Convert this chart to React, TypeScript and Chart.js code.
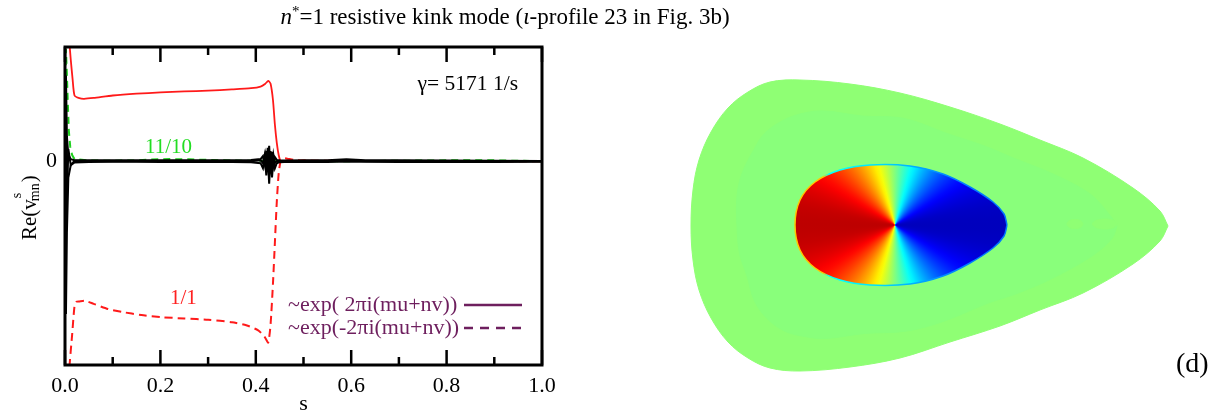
import React, { useEffect, useRef } from 'react';
import { Chart, registerables } from 'chart.js';

Chart.register(...registerables);

const SERIF = '"Liberation Serif", "Times New Roman", serif';

// ---- radial profiles Re(v^s_mn)(s) ----
// m/n = 1/1, ~exp(+2πi(mu+nv))
const sOnePlus = [0, 0.004, 0.008, 0.012, 0.016, 0.02, 0.03, 0.04, 0.06, 0.1, 0.15, 0.2, 0.25, 0.3, 0.35, 0.39, 0.41, 0.42, 0.426, 0.431, 0.436, 0.44, 0.444, 0.448, 0.452, 0.46, 0.5, 0.6, 0.7, 0.8, 0.9, 1.0];
const reOnePlus = [0.95, 0.8, 0.62, 0.5, 0.4, 0.322, 0.309, 0.306, 0.31, 0.322, 0.331, 0.337, 0.342, 0.346, 0.352, 0.358, 0.366, 0.38, 0.394, 0.38, 0.3, 0.18, 0.09, 0.03, 0.0, -0.004, 0.002, 0.0, 0.0, 0.0, 0.0, 0.0];

// m/n = 1/1, ~exp(-2πi(mu+nv))
const sOneMinus = [0.006, 0.009, 0.015, 0.02, 0.024, 0.03, 0.042, 0.06, 0.09, 0.12, 0.16, 0.2, 0.25, 0.3, 0.35, 0.38, 0.405, 0.418, 0.426, 0.431, 0.436, 0.44, 0.444, 0.448, 0.452, 0.458, 0.466, 0.48, 0.5, 0.6, 0.7, 0.8, 0.9, 1.0];
const reOneMinus = [-1.2, -1.02, -0.85, -0.71, -0.69, -0.688, -0.685, -0.7, -0.725, -0.74, -0.755, -0.765, -0.772, -0.778, -0.79, -0.805, -0.83, -0.86, -0.89, -0.8, -0.6, -0.4, -0.2, -0.06, 0.0, 0.015, 0.012, 0.006, 0.003, 0.001, 0.0, 0.0, 0.0, 0.0];

// m/n = 11/10
const sElevenTen = [0, 0.002, 0.004, 0.006, 0.008, 0.011, 0.015, 0.02, 0.05, 0.1, 0.15, 0.18, 0.22, 0.26, 0.3, 0.35, 0.4, 0.43, 0.46, 0.5, 0.6, 0.7, 0.8, 0.85, 0.9, 0.95, 1.0];
const reElevenTen = [0, 0.55, 0.42, 0.28, 0.15, 0.07, 0.03, 0.01, 0.003, 0.002, 0.004, 0.008, 0.01, 0.009, 0.006, 0.003, 0.002, 0.0, 0.0, 0.0, 0.0, 0.002, 0.004, 0.005, 0.004, 0.002, 0];

// remaining harmonics (black)
const sOther = [0, 0.002, 0.004, 0.007, 0.012, 0.02, 0.05, 0.1, 0.15, 0.2, 0.25, 0.3, 0.35, 0.39, 0.41, 0.415, 0.419, 0.422, 0.425, 0.428, 0.431, 0.434, 0.437, 0.44, 0.444, 0.45, 0.46, 0.5, 0.55, 0.59, 0.63, 0.7, 0.8, 0.9, 1.0];
const reOtherA = [0, 0.42, 0.12, 0.03, 0.01, 0.005, 0.004, 0.004, 0.004, 0.005, 0.005, 0.005, 0.005, 0.006, 0.01, 0.025, -0.02, 0.05, -0.04, 0.075, -0.05, 0.045, -0.02, 0.02, 0.006, 0.004, 0.003, 0.004, 0.005, 0.009, 0.005, 0.004, 0.003, 0.002, 0.001];
const reOtherB = [0, -0.75, -0.35, -0.08, -0.02, -0.006, -0.004, -0.003, -0.003, -0.004, -0.004, -0.004, -0.004, -0.005, -0.01, -0.035, 0.02, -0.07, 0.03, -0.11, 0.02, -0.08, 0.01, -0.035, -0.01, -0.005, -0.004, -0.004, -0.004, -0.002, -0.003, -0.004, -0.004, -0.004, -0.003];
const reOtherC = [0, 0.1, -0.2, 0.06, -0.02, 0.002, 0.001, 0.0, 0.0, 0.0, 0.001, 0.001, 0.001, 0.0, 0.005, -0.01, 0.035, -0.03, 0.065, -0.05, 0.05, -0.045, 0.03, -0.01, 0.0, 0.0, 0.0, 0.0, 0.0, 0.004, 0.0, 0.0, 0.0, 0.0, 0.0];

const sTicks = [0, 0.2, 0.4, 0.6, 0.8, 1.0];
const sMinorTicks = [0.1, 0.3, 0.5, 0.7, 0.9];
const growthRate = 'γ= 5171 1/s';
const legendLabels = ['~exp( 2πi(mu+nv))', '~exp(-2πi(mu+nv))'];

// ---- poloidal cross-section (R, Z in m) ----
const edgeR = [6.824, 6.792, 6.684, 6.484, 6.312, 6.152, 5.952, 5.752, 5.552, 5.352, 5.232, 5.144, 5.064, 4.996, 4.948, 4.924, 4.916, 4.924, 4.948, 4.996, 5.064, 5.144, 5.232, 5.352, 5.552, 5.752, 5.952, 6.152, 6.312, 6.484, 6.684, 6.792, 6.824];
const edgeZ = [-0.07, -0.01, 0.082, 0.202, 0.274, 0.338, 0.406, 0.462, 0.498, 0.514, 0.506, 0.466, 0.402, 0.306, 0.194, 0.074, -0.07, -0.206, -0.326, -0.438, -0.534, -0.598, -0.638, -0.65, -0.634, -0.598, -0.534, -0.47, -0.406, -0.338, -0.222, -0.13, -0.07];
// inner region of the flat perturbation (slightly lower level)
const bandR = [6.62, 6.59, 6.51, 6.36, 6.21, 6.09, 5.94, 5.77, 5.6, 5.45, 5.36, 5.28, 5.21, 5.17, 5.12, 5.1, 5.1, 5.11, 5.14, 5.17, 5.22, 5.29, 5.36, 5.45, 5.61, 5.78, 5.93, 6.1, 6.22, 6.36, 6.52, 6.6, 6.62];
const bandZ = [-0.07, -0.025, 0.06, 0.14, 0.2, 0.25, 0.3, 0.36, 0.37, 0.39, 0.38, 0.35, 0.3, 0.24, 0.14, 0.05, -0.07, -0.18, -0.27, -0.37, -0.44, -0.49, -0.51, -0.52, -0.5, -0.49, -0.45, -0.38, -0.34, -0.28, -0.19, -0.12, -0.07];
const islandAR = [6.484, 6.475, 6.452, 6.429, 6.42, 6.429, 6.452, 6.475, 6.484];
const islandAZ = [-0.062, -0.049, -0.044, -0.049, -0.062, -0.075, -0.08, -0.075, -0.062];
const islandBR = [6.622, 6.607, 6.572, 6.537, 6.522, 6.537, 6.572, 6.607, 6.622];
const islandBZ = [-0.062, -0.048, -0.042, -0.048, -0.062, -0.076, -0.082, -0.076, -0.062];
const coreR = [6.18, 6.168, 6.124, 6.032, 5.924, 5.792, 5.632, 5.512, 5.412, 5.352, 5.332, 5.352, 5.412, 5.512, 5.632, 5.792, 5.924, 6.032, 6.124, 6.168, 6.18];
const coreZ = [-0.066, -0.022, 0.026, 0.086, 0.138, 0.17, 0.174, 0.154, 0.106, 0.034, -0.066, -0.166, -0.238, -0.286, -0.306, -0.302, -0.27, -0.218, -0.158, -0.11, -0.066];
const axisR = 5.732;
const axisZ = -0.066;
const rRange = [4.6, 7.048];
const zRange = [-0.834, 0.834];

const zip = (xs: number[], ys: number[]) => xs.map((x, i) => ({ x, y: ys[i] }));

// jet colormap, t in [0, 1]
const jet = (t: number) => {
  const c = (v: number) => Math.round(255 * Math.max(0, Math.min(1, v)));
  const r = c(Math.min(4 * t - 1.5, -4 * t + 4.5));
  const g = c(Math.min(4 * t - 0.5, -4 * t + 3.5));
  const b = c(Math.min(4 * t + 0.5, -4 * t + 2.5));
  return `rgb(${r},${g},${b})`;
};

const framePlugin = {
  id: 'frame',
  afterDraw(chart: any) {
    const { ctx, chartArea: a, scales } = chart;
    const xs = scales.x;
    ctx.save();
    ctx.strokeStyle = '#000';
    ctx.lineWidth = 3;
    ctx.strokeRect(a.left, a.top, a.right - a.left, a.bottom - a.top);
    ctx.lineWidth = 2.5;
    const tick = (v: number, len: number) => {
      const x = xs.getPixelForValue(v);
      ctx.beginPath();
      ctx.moveTo(x, a.bottom);
      ctx.lineTo(x, a.bottom - len);
      ctx.moveTo(x, a.top);
      ctx.lineTo(x, a.top + len);
      ctx.stroke();
    };
    sTicks.forEach((v) => tick(v, 15));
    sMinorTicks.forEach((v) => tick(v, 8));

    // y tick label at zero
    ctx.fillStyle = '#000';
    ctx.font = `22px ${SERIF}`;
    ctx.textAlign = 'right';
    ctx.textBaseline = 'middle';
    ctx.fillText('0', a.left - 8, scales.y.getPixelForValue(0));

    // y-axis title Re(v^s_mn)
    ctx.translate(36, 240);
    ctx.rotate(-Math.PI / 2);
    ctx.textBaseline = 'alphabetic';
    ctx.textAlign = 'left';
    ctx.font = `21px ${SERIF}`;
    ctx.fillText('Re(v', 0, 0);
    const w1 = ctx.measureText('Re(v').width;
    ctx.font = `14px ${SERIF}`;
    ctx.fillText('s', w1 + 1, -15);
    ctx.fillText('mn', w1 - 2, 3);
    const w2 = ctx.measureText('mn').width;
    ctx.font = `21px ${SERIF}`;
    ctx.fillText(')', w1 + w2 - 1, 0);
    ctx.restore();
  },
};

const labelPlugin = {
  id: 'labels',
  afterDatasetsDraw(chart: any) {
    const { ctx, chartArea: a } = chart;
    ctx.save();
    ctx.textBaseline = 'middle';
    ctx.font = `21.5px ${SERIF}`;
    ctx.fillStyle = '#000';
    ctx.textAlign = 'right';
    ctx.fillText(growthRate, a.right - 24, 84);
    ctx.textAlign = 'left';
    ctx.font = `21px ${SERIF}`;
    ctx.fillStyle = '#22dd22';
    ctx.fillText('11/10', 145, 147);
    ctx.fillStyle = '#ff2020';
    ctx.fillText('1/1', 170, 298);

    // legend
    const purple = '#6e1f5e';
    ctx.fillStyle = purple;
    ctx.strokeStyle = purple;
    ctx.font = `22px ${SERIF}`;
    legendLabels.forEach((t, i) => {
      const y = 305 + i * 23;
      ctx.fillText(t, 288, y);
      ctx.lineWidth = 2.5;
      ctx.setLineDash(i === 0 ? [] : [9, 7]);
      ctx.beginPath();
      ctx.moveTo(464, y);
      ctx.lineTo(522, y);
      ctx.stroke();
    });
    ctx.restore();
  },
};

function ProfileChart() {
  const ref = useRef<HTMLCanvasElement>(null);
  useEffect(() => {
    const black = (ys: number[]) => ({
      data: zip(sOther, ys),
      borderColor: '#000',
      borderWidth: 2,
      pointRadius: 0,
      tension: 0,
    });
    const chart = new Chart(ref.current!, {
      type: 'line',
      data: {
        datasets: [
          black(reOtherA),
          black(reOtherB),
          black(reOtherC),
          {
            data: zip(sOnePlus, reOnePlus),
            borderColor: '#ff1a1a',
            borderWidth: 1.8,
            pointRadius: 0,
            tension: 0.2,
          },
          {
            data: zip(sOneMinus, reOneMinus),
            borderColor: '#ff1a1a',
            borderWidth: 2,
            borderDash: [8, 5],
            pointRadius: 0,
            tension: 0.2,
          },
          {
            data: zip(sElevenTen, reElevenTen),
            borderColor: '#1fd01f',
            borderWidth: 2,
            borderDash: [7, 5],
            pointRadius: 0,
            tension: 0,
          },
        ],
      },
      options: {
        animation: false,
        responsive: false,
        devicePixelRatio: 1,
        layout: { padding: { top: 47, right: 70, left: 0, bottom: 0 } },
        scales: {
          x: {
            type: 'linear',
            min: 0,
            max: 1,
            grid: { display: false },
            border: { display: false },
            ticks: {
              stepSize: 0.2,
              maxRotation: 0,
              padding: 0,
              color: '#000',
              font: { family: SERIF, size: 22 },
              callback: (v: any) => Number(v).toFixed(1),
            },
            title: { display: true, text: 's', color: '#000', font: { family: SERIF, size: 22 }, padding: 0 },
            afterFit: (s: any) => {
              s.height = 52;
            },
          },
          y: {
            min: -1,
            max: 0.56,
            grid: { display: false },
            border: { display: false },
            ticks: { display: false },
            afterFit: (s: any) => {
              s.width = 65;
            },
          },
        },
        plugins: { legend: { display: false }, tooltip: { enabled: false } },
      } as any,
      plugins: [framePlugin, labelPlugin],
    });
    return () => chart.destroy();
  }, []);
  return <canvas ref={ref} width={612} height={417} style={{ position: 'absolute', left: 0, top: 0 }} />;
}

function CrossSection() {
  const ref = useRef<HTMLCanvasElement>(null);
  useEffect(() => {
    // conic gradient centred on the magnetic axis
    const conic = (c: any, color: (phi: number) => string, fallback: string) => {
      const { chart } = c;
      const { ctx, scales } = chart;
      if (!scales.x || !scales.y) return fallback;
      const cx = scales.x.getPixelForValue(axisR);
      const cy = scales.y.getPixelForValue(axisZ);
      if (!Number.isFinite(cx) || !Number.isFinite(cy)) return fallback;
      const g = ctx.createConicGradient(0, cx, cy);
      const n = 96;
      for (let i = 0; i <= n; i++) g.addColorStop(i / n, color((i / n) * 2 * Math.PI));
      return g;
    };
    const phaseFill = (c: any) => conic(c, (phi) => jet(0.5 - 0.44 * Math.cos(phi)), jet(0.5));
    const rimColor = (c: any) =>
      conic(
        c,
        (phi) => {
          const cph = Math.cos(phi);
          return cph < -0.8 ? jet(0.68) : jet(0.32 - 0.08 * cph);
        },
        '#00d0ff',
      );
    const patch = (xs: number[], ys: number[], color: string) => ({
      data: zip(xs, ys),
      showLine: true,
      fill: 'shape',
      backgroundColor: color,
      borderColor: color,
      borderWidth: 1,
      pointRadius: 0,
      tension: 0.35,
    });
    const outer = 'rgb(143,255,116)';
    const inner = 'rgb(137,255,123)';
    const chart = new Chart(ref.current!, {
      type: 'scatter',
      data: {
        datasets: [
          {
            data: zip(coreR, coreZ),
            showLine: true,
            fill: 'shape',
            backgroundColor: phaseFill,
            borderColor: rimColor,
            borderWidth: 1.5,
            pointRadius: 0,
            tension: 0.35,
          },
          patch(islandAR, islandAZ, outer),
          patch(islandBR, islandBZ, outer),
          patch(bandR, bandZ, inner),
          patch(edgeR, edgeZ, outer),
        ],
      },
      options: {
        animation: false,
        responsive: false,
        devicePixelRatio: 1,
        layout: { padding: 0 },
        scales: {
          x: { type: 'linear', display: false, min: rRange[0], max: rRange[1] },
          y: { type: 'linear', display: false, min: zRange[0], max: zRange[1] },
        },
        plugins: { legend: { display: false }, tooltip: { enabled: false } },
      } as any,
    });
    return () => chart.destroy();
  }, []);
  return <canvas ref={ref} width={612} height={417} style={{ position: 'absolute', left: 612, top: 0 }} />;
}

export default function App() {
  return (
    <div style={{ position: 'absolute', left: 0, top: 0, width: 1224, height: 417, background: '#fff', overflow: 'hidden' }}>
      <ProfileChart />
      <CrossSection />
      <div
        style={{
          position: 'absolute',
          left: 0,
          top: 4,
          width: 1010,
          textAlign: 'center',
          fontFamily: SERIF,
          fontSize: 23,
          lineHeight: '26px',
          color: '#000',
          whiteSpace: 'nowrap',
        }}
      >
        <i>n</i>
        <sup style={{ fontSize: 15, verticalAlign: 'top', lineHeight: '14px' }}>*</sup>=1 resistive kink mode (<i>ι</i>-profile 23 in Fig. 3b)
      </div>
      <div
        style={{
          position: 'absolute',
          left: 1176,
          top: 348,
          fontFamily: SERIF,
          fontSize: 28,
          lineHeight: '30px',
          color: '#000',
        }}
      >
        (d)
      </div>
    </div>
  );
}
